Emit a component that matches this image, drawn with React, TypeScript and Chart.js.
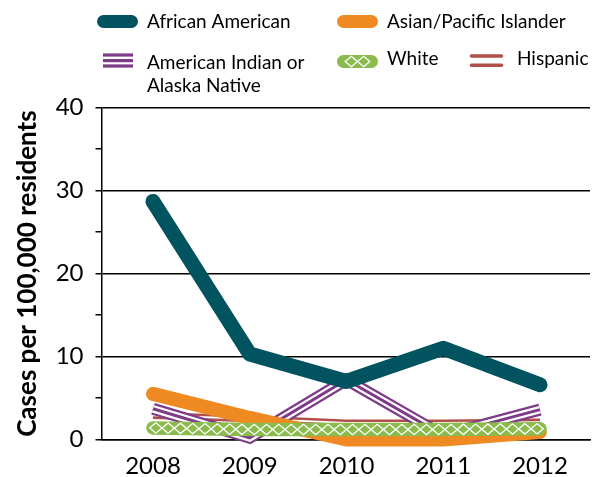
import React, { useEffect, useRef } from "react";
import { Chart, registerables } from "chart.js";

Chart.register(...registerables);

// ---------- data ----------
const years = [2008, 2009, 2010, 2011, 2012];
const africanAmerican = [28.7, 10.3, 7.0, 11.0, 6.6];
const asianPacific = [5.5, 2.6, 0.0, 0.0, 0.9];
const americanIndian = [3.7, 0.2, 7.2, 0.5, 3.6];
const white = [1.4, 1.2, 1.2, 1.2, 1.3];
const hispanic = [2.9, 2.5, 2.0, 2.0, 2.1];
const yMajorTicks = [0, 10, 20, 30, 40];
const yMinorTicks = [5, 15, 25, 35];
const seriesLabels = [
  "African American",
  "Asian/Pacific Islander",
  "American Indian or Alaska Native",
  "White",
  "Hispanic",
];
const yTitle = "Cases per 100,000 residents";

// ---------- styles ----------
const TEAL = "#01535F";
const ORANGE = "#EF8A22";
const PURPLE = "#7D3B88";
const GREEN = "#8BBA4D";
const RED = "#B1504A";
const FONT = "Lato, 'Open Sans', sans-serif";

type P = { x: number; y: number };

function toPoints(vals: number[]): P[] {
  return years.map((x, i) => ({ x, y: vals[i] }));
}

function drawDiamonds(
  ctx: CanvasRenderingContext2D,
  pts: P[],
  step: number,
  halfH: number,
  ext: number
) {
  if (pts.length < 2) return;
  const segs: { x0: number; y0: number; ux: number; uy: number; len: number; start: number }[] = [];
  let total = 0;
  for (let i = 0; i < pts.length - 1; i++) {
    const dx = pts[i + 1].x - pts[i].x;
    const dy = pts[i + 1].y - pts[i].y;
    const len = Math.hypot(dx, dy) || 1;
    segs.push({ x0: pts[i].x, y0: pts[i].y, ux: dx / len, uy: dy / len, len, start: total });
    total += len;
  }
  const at = (s: number) => {
    let seg = segs[0];
    for (const sg of segs) {
      if (s >= sg.start) seg = sg;
    }
    const t = s - seg.start;
    return { x: seg.x0 + seg.ux * t, y: seg.y0 + seg.uy * t, ux: seg.ux, uy: seg.uy };
  };
  ctx.save();
  ctx.strokeStyle = "#ffffff";
  ctx.lineWidth = 1.3;
  ctx.lineJoin = "miter";
  const span = total + 2 * ext;
  const n = Math.floor(span / step);
  const offset = (span - n * step) / 2 - ext;
  for (let k = 0; k < n; k++) {
    const s = offset + step * (k + 0.5);
    const p = at(s);
    const hx = p.ux * step * 0.5;
    const hy = p.uy * step * 0.5;
    const nx = -p.uy * halfH;
    const ny = p.ux * halfH;
    ctx.beginPath();
    ctx.moveTo(p.x - hx, p.y - hy);
    ctx.lineTo(p.x + nx, p.y + ny);
    ctx.lineTo(p.x + hx, p.y + hy);
    ctx.lineTo(p.x - nx, p.y - ny);
    ctx.closePath();
    ctx.stroke();
  }
  ctx.restore();
}

const diamondPlugin = {
  id: "diamondPattern",
  afterDatasetDraw(chart: any, args: any) {
    const ds = chart.data.datasets[args.index];
    if (!ds || !ds.diamond) return;
    const pts = args.meta.data.map((e: any) => ({ x: e.x, y: e.y }));
    const ctx = chart.ctx as CanvasRenderingContext2D;
    drawDiamonds(ctx, pts, 12.3, 5.2, 5);
  },
};

function strokeLine(
  ctx: CanvasRenderingContext2D,
  x0: number,
  x1: number,
  y: number,
  w: number,
  color: string,
  cap: CanvasLineCap
) {
  ctx.beginPath();
  ctx.moveTo(x0, y);
  ctx.lineTo(x1, y);
  ctx.lineWidth = w;
  ctx.strokeStyle = color;
  ctx.lineCap = cap;
  ctx.stroke();
}

const legendPlugin = {
  id: "customLegend",
  afterDraw(chart: any) {
    const ctx = chart.ctx as CanvasRenderingContext2D;
    ctx.save();
    // icons
    strokeLine(ctx, 103.5, 131.5, 21.5, 13, TEAL, "round");
    strokeLine(ctx, 343.5, 371.5, 21.5, 13, ORANGE, "round");
    // triple purple
    strokeLine(ctx, 103, 133, 55, 3.2, PURPLE, "butt");
    strokeLine(ctx, 103, 133, 60.6, 3.2, PURPLE, "butt");
    strokeLine(ctx, 103, 133, 66, 3.2, PURPLE, "butt");
    // white/green diamonds
    strokeLine(ctx, 343.5, 371.5, 61.5, 13, GREEN, "round");
    drawDiamonds(ctx, [{ x: 343.5, y: 61.5 }, { x: 371.5, y: 61.5 }], 12.3, 5.2, 0);
    // hispanic double
    strokeLine(ctx, 471.5, 501.5, 56, 3.6, RED, "round");
    strokeLine(ctx, 471.5, 501.5, 65.3, 3.6, RED, "round");

    ctx.fillStyle = "#000";
    ctx.font = `19px ${FONT}`;
    ctx.textBaseline = "alphabetic";
    ctx.textAlign = "left";
    ctx.fillText(seriesLabels[0], 147, 27.7);
    ctx.fillText(seriesLabels[1], 387, 27.7);
    const ai = seriesLabels[2].split(" or ");
    ctx.fillText(ai[0] + " or", 147, 69);
    ctx.fillText(ai[1], 147, 91.7);
    ctx.fillText(seriesLabels[3], 387, 65);
    ctx.fillText(seriesLabels[4], 517, 65.3);
    ctx.restore();
  },
};

export default function App() {
  const ref = useRef<HTMLCanvasElement | null>(null);

  useEffect(() => {
    if (!ref.current) return;
    const line = {
      pointRadius: 0,
      pointHoverRadius: 0,
      fill: false,
      tension: 0,
      clip: false as any,
    };
    const aiData = toPoints(americanIndian);
    const hiData = toPoints(hispanic);
    const chart = new Chart(ref.current, {
      type: "line",
      data: {
        datasets: [
          {
            ...line,
            label: seriesLabels[0],
            data: toPoints(africanAmerican),
            borderColor: TEAL,
            borderWidth: 15,
            borderCapStyle: "round",
            borderJoinStyle: "round",
            order: 0,
          },
          {
            ...line,
            label: seriesLabels[3],
            data: toPoints(white),
            borderColor: GREEN,
            borderWidth: 13.5,
            borderCapStyle: "round",
            borderJoinStyle: "round",
            order: 1,
            diamond: true,
          } as any,
          {
            ...line,
            label: seriesLabels[1],
            data: toPoints(asianPacific),
            borderColor: ORANGE,
            borderWidth: 14,
            borderCapStyle: "round",
            borderJoinStyle: "round",
            order: 2,
          },
          {
            ...line,
            label: seriesLabels[2],
            data: aiData,
            borderColor: PURPLE,
            borderWidth: 3,
            borderCapStyle: "butt",
            borderJoinStyle: "miter",
            order: 3,
          },
          {
            ...line,
            label: "",
            data: aiData,
            borderColor: "#ffffff",
            borderWidth: 7.5,
            borderCapStyle: "butt",
            borderJoinStyle: "miter",
            order: 3.1,
          },
          {
            ...line,
            label: "",
            data: aiData,
            borderColor: PURPLE,
            borderWidth: 12,
            borderCapStyle: "butt",
            borderJoinStyle: "miter",
            order: 3.2,
          },
          {
            ...line,
            label: "",
            data: hiData,
            borderColor: "#ffffff",
            borderWidth: 1.8,
            borderCapStyle: "butt",
            borderJoinStyle: "miter",
            order: 4,
          },
          {
            ...line,
            label: seriesLabels[4],
            data: hiData,
            borderColor: RED,
            borderWidth: 7,
            borderCapStyle: "butt",
            borderJoinStyle: "miter",
            order: 4.1,
          },
        ],
      },
      options: {
        responsive: false,
        animation: false,
        events: [],
        layout: { padding: { top: 107.7, right: 8, bottom: 0, left: 0 } },
        plugins: {
          legend: { display: false },
          tooltip: { enabled: false },
          title: { display: false },
        },
        scales: {
          x: {
            type: "linear",
            min: 2007.468,
            max: 2012.517,
            afterBuildTicks: (s: any) => {
              s.ticks = years.map((v) => ({ value: v }));
            },
            afterFit: (s: any) => {
              s.height = 37.5;
            },
            ticks: {
              autoSkip: false,
              maxRotation: 0,
              padding: 12,
              color: "#000",
              font: { family: FONT, size: 24 },
              callback: (v: any) => String(v),
            },
            grid: { display: false, drawTicks: false },
            border: { display: true, color: "#000", width: 1.5 },
          },
          y: {
            type: "linear",
            min: 0,
            max: 40,
            afterBuildTicks: (s: any) => {
              s.ticks = [...yMajorTicks, ...yMinorTicks]
                .sort((a, b) => a - b)
                .map((v) => ({ value: v }));
            },
            afterFit: (s: any) => {
              s.width = 101.5;
            },
            ticks: {
              padding: 12,
              color: "#000",
              font: { family: FONT, size: 24 },
              callback: (v: any) => (yMajorTicks.includes(Number(v)) ? String(v) : ""),
            },
            grid: {
              color: (c: any) =>
                c.tick && yMajorTicks.includes(c.tick.value) ? "#000" : "rgba(0,0,0,0)",
              lineWidth: 1.5,
              drawTicks: true,
              tickLength: 6,
              tickColor: "#000",
              tickWidth: 1.5,
            },
            border: { display: true, color: "#000", width: 1.5 },
            title: {
              display: true,
              text: yTitle,
              color: "#000",
              font: { family: FONT, size: 26, weight: "bold", lineHeight: 1.2 },
              padding: { top: 12, bottom: 0 },
            },
          },
        },
      },
      plugins: [diamondPlugin, legendPlugin],
    });
    return () => chart.destroy();
  }, []);

  return (
    <div style={{ position: "absolute", left: 0, top: 0, width: 598, height: 477 }}>
      <canvas ref={ref} width={598} height={477} style={{ display: "block" }} />
    </div>
  );
}
